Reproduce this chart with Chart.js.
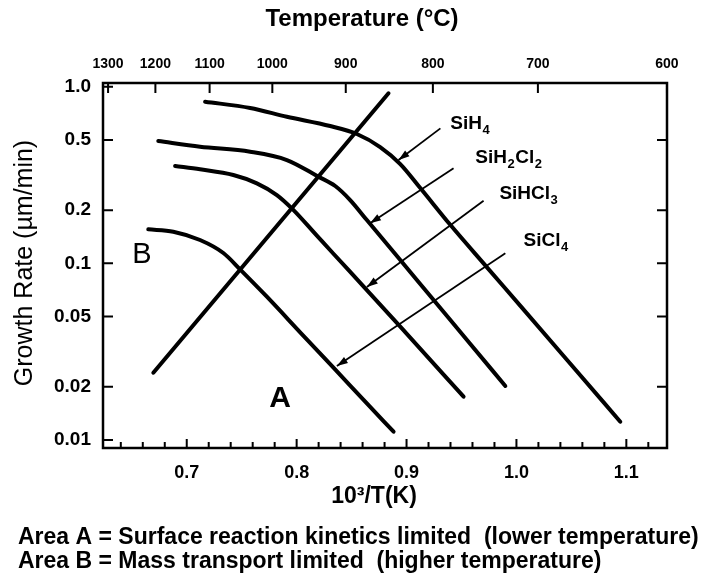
<!DOCTYPE html>
<html>
<head>
<meta charset="utf-8">
<script src="https://cdn.jsdelivr.net/npm/chart.js@4.4.1/dist/chart.umd.min.js"></script>
<style>
  html, body { margin: 0; padding: 0; background: #fff; }
  #wrap { width: 713px; height: 581px; }
</style>
</head>
<body>
<div id="wrap"><canvas id="growth" width="713" height="581"></canvas></div>
<script>
// Silicon epitaxial growth rate vs. reciprocal temperature for four chlorosilane sources

// 10^3/T (K^-1) and growth rate (µm/min) for each source gas
const sih4InvT    = [0.7167, 0.7577, 0.7911, 0.8305, 0.8548, 0.876, 0.8943, 0.9125, 0.9398, 0.9732, 1.0036, 1.0461, 1.0945];
const sih4Rate    = [0.823, 0.758, 0.676, 0.599, 0.540, 0.4556, 0.365, 0.267, 0.1652, 0.0949, 0.0574, 0.02835, 0.01268];

const sih2cl2InvT = [0.6741, 0.7121, 0.7577, 0.7911, 0.8199, 0.8351, 0.8487, 0.8639, 0.8943, 0.9216, 0.955, 0.9899];
const sih2cl2Rate = [0.4927, 0.4574, 0.4285, 0.3846, 0.3093, 0.2741, 0.2283, 0.1758, 0.1044, 0.0653, 0.0368, 0.0202];

const sihcl3InvT  = [0.6894, 0.7121, 0.7424, 0.7638, 0.782, 0.7965, 0.8184, 0.8335, 0.8639, 0.8943, 0.9519];
const sihcl3Rate  = [0.3556, 0.3406, 0.3163, 0.2838, 0.2436, 0.2022, 0.1435, 0.1133, 0.0706, 0.0438, 0.01757];

const sicl4InvT   = [0.665, 0.6878, 0.7121, 0.7333, 0.7485, 0.7729, 0.8032, 0.8335, 0.8639, 0.8882];
const sicl4Rate   = [0.1558, 0.151, 0.1355, 0.1144, 0.0925, 0.0647, 0.0407, 0.02564, 0.01612, 0.01113];

// Boundary between the mass-transport (B) and surface-reaction (A) regimes
const boundaryInvT = [0.6696, 0.7965, 0.8836];
const boundaryRate = [0.02403, 0.2084, 0.9178];

// Species names, their label anchors and the pointer arrows (tail -> head)
const speciesNames     = ['SiH4', 'SiH2Cl2', 'SiHCl3', 'SiCl4'];
const speciesLabelInvT = [0.9398, 0.9626, 0.9845, 1.0064];
const speciesLabelRate = [0.615, 0.3948, 0.247, 0.1337];
const arrowTailInvT    = [0.9308, 0.9428, 0.9701, 0.9899];
const arrowTailRate    = [0.5813, 0.3451, 0.2262, 0.1139];
const arrowHeadInvT    = [0.8927, 0.8668, 0.8639, 0.8366];
const arrowHeadRate    = [0.3846, 0.1685, 0.0734, 0.0262];

// Region letters
const regionNames = ['A', 'B'];
const regionInvT  = [0.785, 0.6593];
const regionRate  = [0.01716, 0.1114];

// Axis ticks
const xTickValues  = [0.7, 0.8, 0.9, 1.0, 1.1];
const yTickValues  = [0.01, 0.02, 0.05, 0.1, 0.2, 0.5, 1.0];
const yTickLabels  = ['0.01', '0.02', '0.05', '0.1', '0.2', '0.5', '1.0'];
const tempTicksC   = [1300, 1200, 1100, 1000, 900, 800, 700, 600];

const FONT = "'Liberation Sans', Arial, Helvetica, sans-serif";
const INK = '#000';

const toPoints = (xs, ys) => xs.map((x, i) => ({ x, y: ys[i] }));

const curveStyle = {
  showLine: true, borderColor: INK, borderWidth: 4, pointRadius: 0,
  cubicInterpolationMode: 'monotone', fill: false, borderCapStyle: 'round'
};

const datasets = [
  { label: 'SiH4',    data: toPoints(sih4InvT, sih4Rate), ...curveStyle },
  { label: 'SiH2Cl2', data: toPoints(sih2cl2InvT, sih2cl2Rate), ...curveStyle },
  { label: 'SiHCl3',  data: toPoints(sihcl3InvT, sihcl3Rate), ...curveStyle },
  { label: 'SiCl4',   data: toPoints(sicl4InvT, sicl4Rate), ...curveStyle },
  { label: 'boundary', data: toPoints(boundaryInvT, boundaryRate), ...curveStyle, cubicInterpolationMode: 'default', tension: 0 }
];
speciesNames.forEach((name, i) => {
  datasets.push({
    label: 'arrow ' + name,
    data: [{ x: arrowTailInvT[i], y: arrowTailRate[i] }, { x: arrowHeadInvT[i], y: arrowHeadRate[i] }],
    showLine: true, borderColor: INK, borderWidth: 1.8, pointRadius: 0, isArrow: true
  });
});

// Draws a chemical formula with its digits as subscripts
function drawFormula(ctx, text, x, y, size) {
  let cx = x;
  for (const part of text.match(/[A-Za-z]+|\d+/g)) {
    if (/\d/.test(part)) {
      ctx.font = `bold ${Math.round(size * 0.68)}px ${FONT}`;
      ctx.fillText(part, cx, y + size * 0.32);
    } else {
      ctx.font = `bold ${size}px ${FONT}`;
      ctx.fillText(part, cx, y);
    }
    cx += ctx.measureText(part).width + 0.5;
  }
}

const decorations = {
  id: 'decorations',
  afterDatasetsDraw(chart) {
    const { ctx, chartArea: a, scales } = chart;
    const sx = scales.x, sy = scales.y, st = scales.xTop;
    ctx.save();

    // arrowheads at the end of each pointer line
    chart.data.datasets.forEach((ds, di) => {
      if (!ds.isArrow) return;
      const pts = chart.getDatasetMeta(di).data;
      const p0 = pts[0], p1 = pts[1];
      const ang = Math.atan2(p1.y - p0.y, p1.x - p0.x);
      const L = 11, W = 3.6;
      ctx.fillStyle = INK;
      ctx.beginPath();
      ctx.moveTo(p1.x, p1.y);
      ctx.lineTo(p1.x - L * Math.cos(ang) + W * Math.sin(ang), p1.y - L * Math.sin(ang) - W * Math.cos(ang));
      ctx.lineTo(p1.x - L * Math.cos(ang) - W * Math.sin(ang), p1.y - L * Math.sin(ang) + W * Math.cos(ang));
      ctx.closePath();
      ctx.fill();
    });

    // frame
    ctx.strokeStyle = INK;
    ctx.lineWidth = 2.5;
    ctx.strokeRect(a.left, a.top, a.right - a.left, a.bottom - a.top);

    // inward tick marks
    ctx.lineWidth = 2;
    ctx.beginPath();
    for (let i = 32; i <= 56; i++) {
      const px = sx.getPixelForValue(i / 50);
      const len = i % 5 === 0 ? 9 : 6;
      ctx.moveTo(px, a.bottom); ctx.lineTo(px, a.bottom - len);
    }
    tempTicksC.forEach(t => {
      const px = st.getPixelForValue(1000 / (t + 273));
      ctx.moveTo(px, a.top); ctx.lineTo(px, a.top + 10);
    });
    yTickValues.forEach((v, i) => {
      const py = sy.getPixelForValue(v);
      ctx.moveTo(a.left, py); ctx.lineTo(a.left + 10, py);
      if (i > 0 && i < yTickValues.length - 1) { ctx.moveTo(a.right, py); ctx.lineTo(a.right - 10, py); }
    });
    ctx.stroke();

    // species labels
    ctx.fillStyle = INK;
    ctx.textBaseline = 'middle';
    ctx.textAlign = 'left';
    speciesNames.forEach((name, i) => {
      drawFormula(ctx, name, sx.getPixelForValue(speciesLabelInvT[i]), sy.getPixelForValue(speciesLabelRate[i]), 19);
    });

    // region letters
    ctx.textAlign = 'center';
    regionNames.forEach((r, i) => {
      ctx.font = (r === 'A' ? 'bold 30px ' : '29px ') + FONT;
      ctx.fillText(r, sx.getPixelForValue(regionInvT[i]), sy.getPixelForValue(regionRate[i]));
    });

    // titles and caption
    ctx.font = `bold 24px ${FONT}`;
    ctx.fillText('Temperature (°C)', 362, 19);
    ctx.font = `bold 23px ${FONT}`;
    ctx.fillText('10³/T(K)', 374, 497);
    ctx.save();
    ctx.translate(25, 263);
    ctx.rotate(-Math.PI / 2);
    ctx.font = `25px ${FONT}`;
    ctx.fillText('Growth Rate (µm/min)', 0, 0);
    ctx.restore();
    ctx.textAlign = 'left';
    ctx.font = `bold 23px ${FONT}`;
    ctx.fillText('Area A = Surface reaction kinetics limited  (lower temperature)', 18, 538, 690);
    ctx.fillText('Area B = Mass transport limited  (higher temperature)', 18, 562);
    ctx.restore();
  }
};

new Chart(document.getElementById('growth'), {
  type: 'scatter',
  data: { datasets },
  options: {
    responsive: false,
    animation: false,
    devicePixelRatio: 1,
    layout: { padding: { left: 0, right: 46, top: 0, bottom: 0 } },
    plugins: { legend: { display: false }, tooltip: { enabled: false }, title: { display: false } },
    scales: {
      x: {
        type: 'linear', position: 'bottom', min: 0.6238, max: 1.137,
        afterBuildTicks: s => { s.ticks = xTickValues.map(v => ({ value: v })); },
        afterFit: s => { s.height = 133; },
        grid: { display: false, drawTicks: false }, border: { display: false },
        ticks: {
          padding: 14, color: INK, autoSkip: false, maxRotation: 0,
          font: { family: FONT, size: 18, weight: 'bold' },
          callback: v => Number(v).toFixed(1)
        }
      },
      xTop: {
        type: 'linear', position: 'top', min: 0.6311, max: 1.1455,
        afterBuildTicks: s => { s.ticks = tempTicksC.map(t => ({ value: 1000 / (t + 273) })); },
        afterFit: s => { s.height = 83; },
        grid: { display: false, drawTicks: false }, border: { display: false },
        ticks: {
          padding: 10, color: INK, autoSkip: false, maxRotation: 0,
          font: { family: FONT, size: 14, weight: 'bold' },
          callback: (v, i) => String(tempTicksC[i])
        }
      },
      y: {
        type: 'logarithmic', position: 'left', min: 0.009, max: 1.05,
        afterBuildTicks: s => { s.ticks = yTickValues.map(v => ({ value: v })); },
        afterFit: s => { s.width = 103; },
        grid: { display: false, drawTicks: false }, border: { display: false },
        ticks: {
          padding: 12, color: INK, autoSkip: false,
          font: { family: FONT, size: 19, weight: 'bold' },
          callback: (v, i) => yTickLabels[i]
        }
      }
    }
  },
  plugins: [decorations]
});
</script>
</body>
</html>
